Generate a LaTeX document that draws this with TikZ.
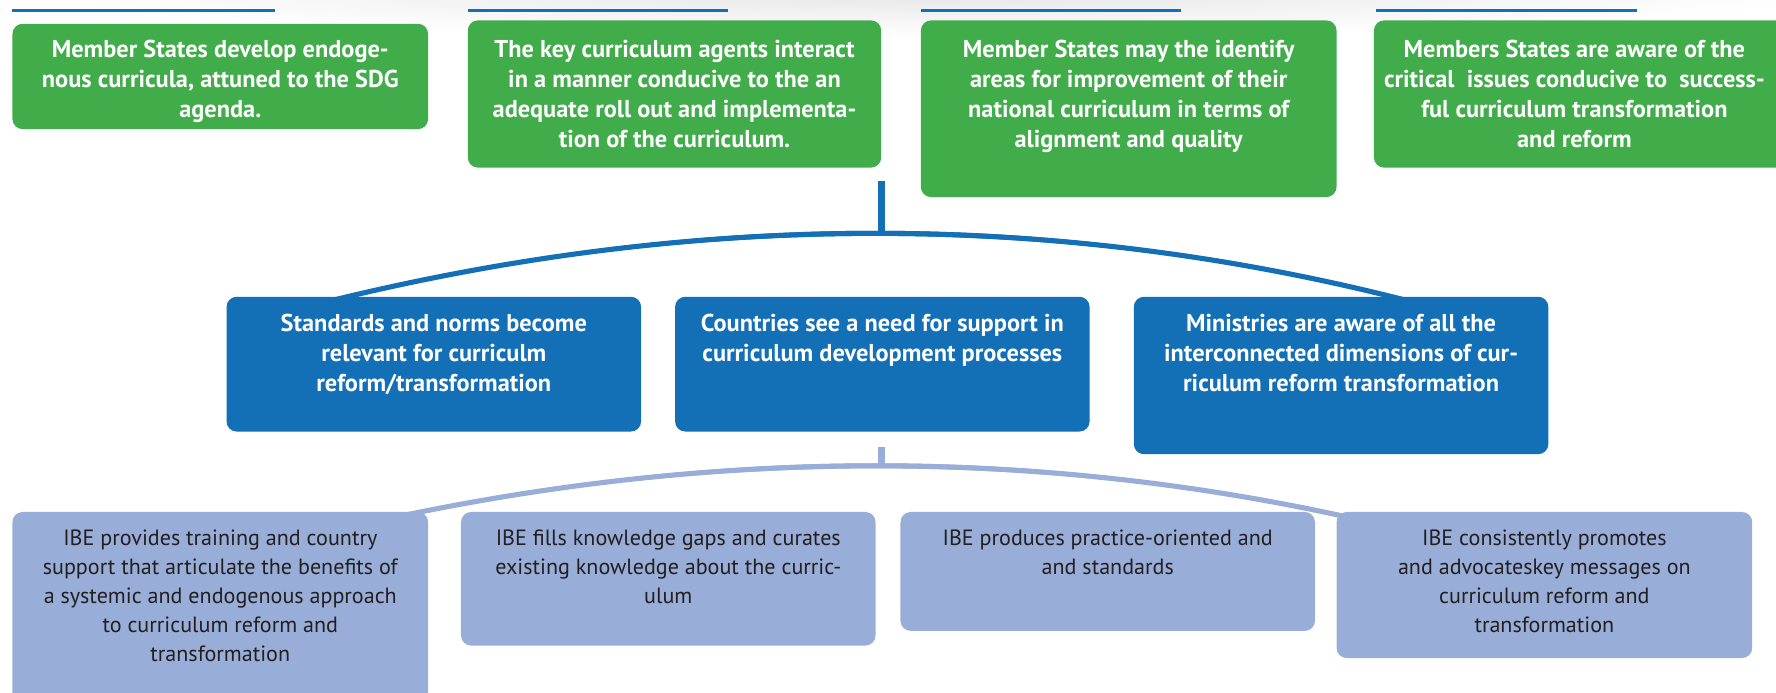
\documentclass[tikz,border=0pt]{standalone}
\usepackage{fontspec}
\setmainfont{PT Sans}
\definecolor{ggreen}{RGB}{65,173,74}
\definecolor{dblue}{RGB}{19,111,182}
\definecolor{lblue}{RGB}{152,174,216}
\definecolor{dtext}{RGB}{35,31,32}
\begin{document}
\begin{tikzpicture}[x=1pt,y=-1pt,
  box/.style={draw=none, rounded corners=9pt, inner sep=0pt, outer sep=0pt, anchor=north west},
  gbox/.style={box, fill=ggreen},
  bbox/.style={box, fill=dblue},
  lbox/.style={box, fill=lblue},
  btxt/.style={text=white, font=\fontsize{21.5}{26.5}\selectfont\bfseries, align=center, anchor=north, inner sep=0pt},
  ltxt/.style={text=dtext, font=\fontsize{19.5}{25.5}\selectfont, align=center, anchor=north, inner sep=0pt},
  topline/.style={draw=dblue, line width=2.5pt},
  dconn/.style={draw=dblue, line width=6pt},
  lconn/.style={draw=lblue, line width=6pt}]
\useasboundingbox (0,0) rectangle (1568,611);
\shade[inner color=black!11, outer color=white] (820,-12) ellipse [x radius=820, y radius=45];

% top rules
\coordinate (t1a) at (11,9);   \coordinate (t1b) at (243,9);
\coordinate (t2a) at (413,9);  \coordinate (t2b) at (643,9);
\coordinate (t3a) at (813,9);  \coordinate (t3b) at (1043,9);
\coordinate (t4a) at (1215,9); \coordinate (t4b) at (1445,9);
\draw[topline] (t1a) -- (t1b);
\draw[topline] (t2a) -- (t2b);
\draw[topline] (t3a) -- (t3b);
\draw[topline] (t4a) -- (t4b);

% connectors (drawn first, boxes cover their ends)
\coordinate (s1a) at (778,160); \coordinate (s1b) at (778,206);
\draw[dconn] (s1a) -- (s1b);
\coordinate (a1l) at (290,266); \coordinate (a1r) at (1245,266);
\coordinate (a1p) at (615,186); \coordinate (a1q) at (934,186);
\draw[draw=dblue, line width=4.5pt] (a1l) .. controls (a1p) and (a1q) .. (a1r);
\fill[dblue] (a1l) .. controls ([yshift=-3]a1p) and ([yshift=-3]a1q) .. (a1r)
   .. controls ([yshift=3]a1q) and ([yshift=3]a1p) .. (a1l) -- cycle;

\coordinate (s2a) at (778,395); \coordinate (s2b) at (778,412);
\draw[lconn] (s2a) -- (s2b);
\coordinate (a2l) at (347,457); \coordinate (a2r) at (1192,457);
\coordinate (a2p) at (634,396); \coordinate (a2q) at (916,396);
\draw[draw=lblue, line width=4.5pt] (a2l) .. controls (a2p) and (a2q) .. (a2r);
\fill[lblue] (a2l) .. controls ([yshift=-3]a2p) and ([yshift=-3]a2q) .. (a2r)
   .. controls ([yshift=3]a2q) and ([yshift=3]a2p) .. (a2l) -- cycle;

% green boxes
\node[gbox, minimum width=367pt, minimum height=93pt]  (g1) at (11,21) {};
\node[gbox, minimum width=365pt, minimum height=130pt] (g2) at (413,18) {};
\node[gbox, minimum width=367pt, minimum height=156pt] (g3) at (813,18) {};
\node[gbox, minimum width=370pt, minimum height=130pt] (g4) at (1213,18) {};

\node[btxt] (g1t) at (194.5,35) {Member States develop endoge-\\nous curricula, attuned to the SDG\\agenda.};
\node[btxt] (g2t) at (595.5,35) {The key curriculum agents interact\\in a manner conducive to the an\\adequate roll out and implementa-\\tion of the curriculum.};
\node[btxt] (g3t) at (996.5,35) {Member States may the identify\\areas for improvement of their\\national curriculum in terms of\\alignment and quality};
\node[btxt] (g4t) at (1390,35) {Members States are aware of the\\critical~ issues conducive to~ success-\\ful curriculum transformation\\and reform};

% blue boxes
\node[bbox, minimum width=366pt, minimum height=119pt] (b1) at (200,262) {};
\node[bbox, minimum width=366pt, minimum height=119pt] (b2) at (596,262) {};
\node[bbox, minimum width=366pt, minimum height=139pt] (b3) at (1001,262) {};

\node[btxt] (b1t) at (383,277) {Standards and norms become\\relevant for curriculm\\reform/transformation};
\node[btxt] (b2t) at (779,277) {Countries see a need for support in\\curriculum development processes};
\node[btxt] (b3t) at (1184,277) {Ministries are aware of all the\\interconnected dimensions of cur-\\riculum reform transformation};

% light blue boxes
\node[lbox, minimum width=367pt, minimum height=175pt] (l1) at (11,452) {};
\node[lbox, minimum width=366pt, minimum height=118pt] (l2) at (407,452) {};
\node[lbox, minimum width=366pt, minimum height=105pt] (l3) at (795,452) {};
\node[lbox, minimum width=367pt, minimum height=129pt] (l4) at (1180,452) {};

\node[ltxt] (l1t) at (194.5,468) {IBE provides training and country\\support that articulate the benefits of\\a systemic and endogenous approach\\to curriculum reform and\\transformation};
\node[ltxt] (l2t) at (590,468) {IBE fills knowledge gaps and curates\\existing knowledge about the curric-\\ulum};
\node[ltxt] (l3t) at (978,468) {IBE produces practice-oriented and\\and standards};
\node[ltxt] (l4t) at (1363.5,468) {IBE consistently promotes\\and advocateskey messages on\\curriculum reform and\\transformation};
\end{tikzpicture}
\end{document}
